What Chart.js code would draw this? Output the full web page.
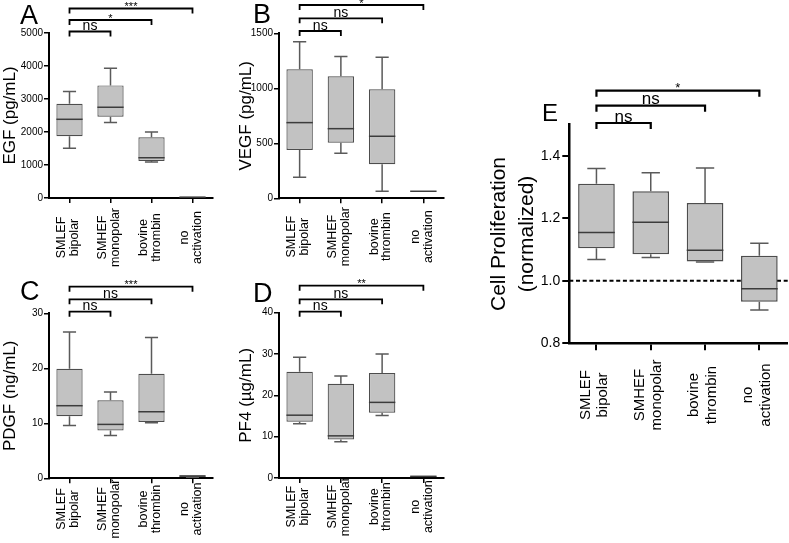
<!DOCTYPE html>
<html>
<head>
<meta charset="utf-8">
<script src="https://cdn.jsdelivr.net/npm/chart.js@4.4.0/dist/chart.umd.min.js"></script>
<style>
  body { margin: 0; background: #fff; width: 789px; height: 543px; position: relative; overflow: hidden;
         font-family: Arial, "Liberation Sans", sans-serif; }
  canvas { position: absolute; }
  .letter { position: absolute; font-size: 27px; line-height: 27px; color: #000; }
</style>
</head>
<body>
<canvas id="panelA" width="240" height="270" style="left:0;top:0"></canvas>
<canvas id="panelB" width="226" height="270" style="left:234px;top:0"></canvas>
<canvas id="panelC" width="240" height="273" style="left:0;top:270px"></canvas>
<canvas id="panelD" width="226" height="273" style="left:234px;top:270px"></canvas>
<canvas id="panelE" width="329" height="483" style="left:460px;top:60px"></canvas>
<div class="letter" style="left:20px;top:2px">A</div>
<div class="letter" style="left:253px;top:1px">B</div>
<div class="letter" style="left:20px;top:278px">C</div>
<div class="letter" style="left:253px;top:280px">D</div>
<div class="letter" style="left:542px;top:101px;font-size:24px;line-height:24px">E</div>
<script>
// groups on the x axis (two-line labels)
const categories = [['SMLEF', 'bipolar'], ['SMHEF', 'monopolar'], ['bovine', 'thrombin'], ['no', 'activation']];

// A - EGF (pg/mL): whisker min, Q1, median, Q3, whisker max
const egfMin = [1510, 2290, 1090, 10];
const egfQ1  = [1875, 2460, 1120, 15];
const egfMed = [2385, 2750, 1220, 25];
const egfQ3  = [2855, 3412, 1838, 40];
const egfMax = [3230, 3935, 2000, 45];
const egfTicks = [0, 1000, 2000, 3000, 4000, 5000];

// B - VEGF (pg/mL)
const vegfMin = [191, 409, 64, 64];
const vegfQ1  = [439, 506, 309, 64];
const vegfMed = [688, 633, 564, 64];
const vegfQ3  = [1173, 1109, 991, 64];
const vegfMax = [1424, 1288, 1282, 64];
const vegfTicks = [0, 500, 1000, 1500];

// C - PDGF (ng/mL)
const pdgfMin = [9.6, 7.8, 10.1, 0.2];
const pdgfQ1  = [11.3, 8.7, 10.25, 0.3];
const pdgfMed = [13.2, 9.8, 12.1, 0.4];
const pdgfQ3  = [19.9, 14.2, 19.0, 0.55];
const pdgfMax = [26.6, 15.7, 25.6, 0.6];
const pdgfTicks = [0, 10, 20, 30];

// D - PF4 (ug/mL)
const pf4Min = [13.1, 8.8, 15.1, 0.2];
const pf4Q1  = [13.6, 9.3, 15.8, 0.3];
const pf4Med = [15.2, 10.2, 18.3, 0.4];
const pf4Q3  = [25.7, 22.8, 25.4, 0.55];
const pf4Max = [29.2, 24.7, 30.0, 0.6];
const pf4Ticks = [0, 10, 20, 30, 40];

// E - cell proliferation (normalized)
const prolMin = [1.068, 1.075, 1.060, 0.907];
const prolQ1  = [1.104, 1.085, 1.062, 0.933];
const prolMed = [1.155, 1.188, 1.098, 0.975];
const prolQ3  = [1.311, 1.287, 1.249, 1.080];
const prolMax = [1.360, 1.346, 1.361, 1.120];
const prolTicks = [0.8, 1.0, 1.2, 1.4];
const prolBaseline = 1.0;

// significance vs first group (targets are category indexes)
const sigTargets = [1, 2, 3];
const sigA = ['ns', '*', '***'];
const sigB = ['ns', 'ns', '*'];
const sigC = ['ns', 'ns', '***'];
const sigD = ['ns', 'ns', '**'];
const sigE = ['ns', 'ns', '*'];

Chart.defaults.font.family = 'Arial, "Liberation Sans", sans-serif';
Chart.defaults.color = '#000';

function boxPanel(id, s, cfg) {
  var plugin = {
    id: 'box-' + id,
    beforeDatasetsDraw: function(chart) {
      if (cfg.refLine == null) return;
      var ctx = chart.ctx, a = chart.chartArea;
      var py = chart.scales.y.getPixelForValue(cfg.refLine);
      ctx.save();
      ctx.setLineDash([4, 2.7]);
      ctx.lineWidth = 2;
      ctx.strokeStyle = '#000';
      ctx.beginPath();
      ctx.moveTo(a.left, py);
      ctx.lineTo(chart.width, py);
      ctx.stroke();
      ctx.restore();
    },
    afterDatasetsDraw: function(chart) {
      var ctx = chart.ctx, x = chart.scales.x, y = chart.scales.y;
      var meta = chart.getDatasetMeta(0);
      ctx.save();
      s.med.forEach(function(m, i) {
        var cx = x.getPixelForValue(i);
        var hw = meta.data[i].width / 2, cw = hw * cfg.capFrac;
        var yMin = y.getPixelForValue(s.min[i]), yQ1 = y.getPixelForValue(s.q1[i]);
        var yQ3 = y.getPixelForValue(s.q3[i]), yMax = y.getPixelForValue(s.max[i]);
        var yMed = y.getPixelForValue(m);
        ctx.strokeStyle = '#5a5a5a';
        ctx.lineWidth = cfg.whisker;
        ctx.beginPath();
        if (yQ3 - yMax > 0.5) {
          ctx.moveTo(cx, yMax); ctx.lineTo(cx, yQ3);
          ctx.moveTo(cx - cw, yMax); ctx.lineTo(cx + cw, yMax);
        }
        if (yMin - yQ1 > 0.5) {
          ctx.moveTo(cx, yQ1); ctx.lineTo(cx, yMin);
          ctx.moveTo(cx - cw, yMin); ctx.lineTo(cx + cw, yMin);
        }
        ctx.stroke();
        ctx.strokeStyle = '#3c3c3c';
        ctx.lineWidth = cfg.whisker;
        ctx.beginPath();
        ctx.moveTo(cx - hw, yMed); ctx.lineTo(cx + hw, yMed);
        ctx.stroke();
      });
      ctx.restore();
    },
    afterDraw: function(chart) {
      var ctx = chart.ctx, a = chart.chartArea, x = chart.scales.x;
      ctx.save();
      // brackets
      ctx.strokeStyle = '#000';
      ctx.fillStyle = '#000';
      ctx.lineWidth = cfg.sigLine;
      cfg.sig.forEach(function(txt, k) {
        var x0 = x.getPixelForValue(0), x1 = x.getPixelForValue(sigTargets[k]);
        var yy = a.top + cfg.sigY[k];
        ctx.beginPath();
        ctx.moveTo(x0, yy + cfg.sigTick);
        ctx.lineTo(x0, yy);
        ctx.lineTo(x1, yy);
        ctx.lineTo(x1, yy + cfg.sigTick);
        ctx.stroke();
        var star = txt.charAt(0) === '*';
        ctx.font = (star ? cfg.starFont : cfg.nsFont) + 'px Arial, "Liberation Sans", sans-serif';
        ctx.textAlign = 'center';
        ctx.textBaseline = 'alphabetic';
        ctx.fillText(txt, (x0 + x1) / 2, star ? yy + 1.5 : yy - 1.5);
      });
      // rotated, centred category labels
      ctx.font = cfg.labelFont + 'px Arial, "Liberation Sans", sans-serif';
      ctx.textAlign = 'center';
      ctx.textBaseline = 'middle';
      categories.forEach(function(lines, i) {
        var cx = x.getPixelForTick(i) + cfg.labelShift;
        lines.forEach(function(ln, j) {
          ctx.save();
          ctx.translate(cx + (j - (lines.length - 1) / 2) * cfg.labelGap, cfg.labelY);
          ctx.rotate(-Math.PI / 2);
          ctx.fillText(ln, 0, 0);
          ctx.restore();
        });
      });
      ctx.restore();
    }
  };

  return new Chart(document.getElementById(id), {
    type: 'bar',
    data: {
      labels: categories,
      datasets: [{
        data: s.q1.map(function(v, i) { return [v, s.q3[i]]; }),
        backgroundColor: '#c2c2c2',
        borderColor: '#4d4d4d',
        borderWidth: cfg.boxLine,
        borderSkipped: false,
        barPercentage: cfg.boxFrac,
        categoryPercentage: 1
      }]
    },
    options: {
      responsive: false,
      animation: false,
      events: [],
      devicePixelRatio: 1,
      layout: { padding: { top: cfg.top, right: cfg.right, left: 0, bottom: 0 } },
      plugins: { legend: { display: false }, tooltip: { enabled: false } },
      scales: {
        x: {
          offset: true,
          grid: { offset: false, drawOnChartArea: false, drawTicks: true, tickLength: cfg.tickLen,
                  color: '#000', lineWidth: cfg.tickWidth },
          border: { display: true, color: '#000', width: cfg.axisWidth },
          ticks: { display: false },
          afterFit: function(sc) { sc.height = cfg.height - cfg.bottom; }
        },
        y: {
          min: cfg.yMin,
          max: cfg.yMax,
          afterBuildTicks: function(sc) { sc.ticks = cfg.yTicks.map(function(v) { return { value: v }; }); },
          grid: { drawOnChartArea: false, drawTicks: true, tickLength: cfg.tickLen,
                  color: '#000', lineWidth: cfg.tickWidth },
          border: { display: true, color: '#000', width: cfg.axisWidth },
          ticks: {
            color: '#000',
            font: { size: cfg.tickFont },
            padding: cfg.tickPad,
            callback: function(v) { return cfg.decimals ? Number(v).toFixed(cfg.decimals) : String(v); }
          },
          title: {
            display: true,
            text: cfg.yTitle,
            color: '#000',
            font: { size: cfg.titleFont, lineHeight: cfg.titleLH || 1.2 },
            padding: { top: cfg.titlePad, bottom: 0 }
          },
          afterFit: function(sc) { sc.width = cfg.left; }
        }
      }
    },
    plugins: [plugin]
  });
}

var small = { tickLen: 5, tickWidth: 1.5, axisWidth: 2, tickFont: 10, tickPad: 1, titleFont: 17,
              boxFrac: 0.64, boxLine: 1.2, whisker: 1.5, capFrac: 0.5, sigTick: 5, sigLine: 1.8,
              nsFont: 14, starFont: 11, labelFont: 12.5, labelGap: 12.7, labelShift: -1.5 };

function opts(extra) { return Object.assign({}, small, extra); }

boxPanel('panelA', { min: egfMin, q1: egfQ1, med: egfMed, q3: egfQ3, max: egfMax }, opts({
  left: 49, top: 33, right: 27, height: 270, bottom: 198, yMin: 0, yMax: 5000, yTicks: egfTicks,
  yTitle: 'EGF (pg/mL)', titlePad: 0, sig: sigA, sigY: [-1.5, -13, -24.5], labelY: 237.5
}));

boxPanel('panelB', { min: vegfMin, q1: vegfQ1, med: vegfMed, q3: vegfQ3, max: vegfMax }, opts({
  left: 45, top: 33.3, right: 16, height: 270, bottom: 198.3, yMin: 0, yMax: 1500, yTicks: vegfTicks,
  yTitle: 'VEGF (pg/mL)', titlePad: 2, sig: sigB, sigY: [-2.3, -15, -28.3], labelY: 236.7
}));

boxPanel('panelC', { min: pdgfMin, q1: pdgfQ1, med: pdgfMed, q3: pdgfQ3, max: pdgfMax }, opts({
  left: 49, top: 43.3, right: 27, height: 273, bottom: 208.3, yMin: 0, yMax: 30, yTicks: pdgfTicks,
  yTitle: 'PDGF (ng/mL)', titlePad: 0, sig: sigC, sigY: [-1.6, -14, -26.6], labelY: 239
}));

boxPanel('panelD', { min: pf4Min, q1: pf4Q1, med: pf4Med, q3: pf4Q3, max: pf4Max }, opts({
  left: 45, top: 42.7, right: 16, height: 273, bottom: 208, yMin: 0, yMax: 40, yTicks: pf4Ticks,
  yTitle: 'PF4 (µg/mL)', titlePad: 2, sig: sigD, sigY: [-1, -13.4, -27], labelY: 236.7
}));

boxPanel('panelE', { min: prolMin, q1: prolQ1, med: prolMed, q3: prolQ3, max: prolMax }, opts({
  left: 109.3, top: 64.7, right: 2.5, height: 483, bottom: 283.3, yMin: 0.8, yMax: 1.5, yTicks: prolTicks,
  decimals: 1, tickLen: 7, tickWidth: 2, axisWidth: 2.5, tickFont: 14, tickPad: 2,
  yTitle: ['Cell Proliferation', '(normalized)'], titleFont: 21, titleLH: 1.3, titlePad: 26,
  boxFrac: 0.675, boxLine: 1.5, sig: sigE, sigY: [-1.7, -19, -34], sigTick: 6, sigLine: 2.2,
  nsFont: 17, starFont: 13, labelFont: 15, labelGap: 17.5, labelY: 335, labelShift: -2.3,
  refLine: prolBaseline
}));
</script>
</body>
</html>
